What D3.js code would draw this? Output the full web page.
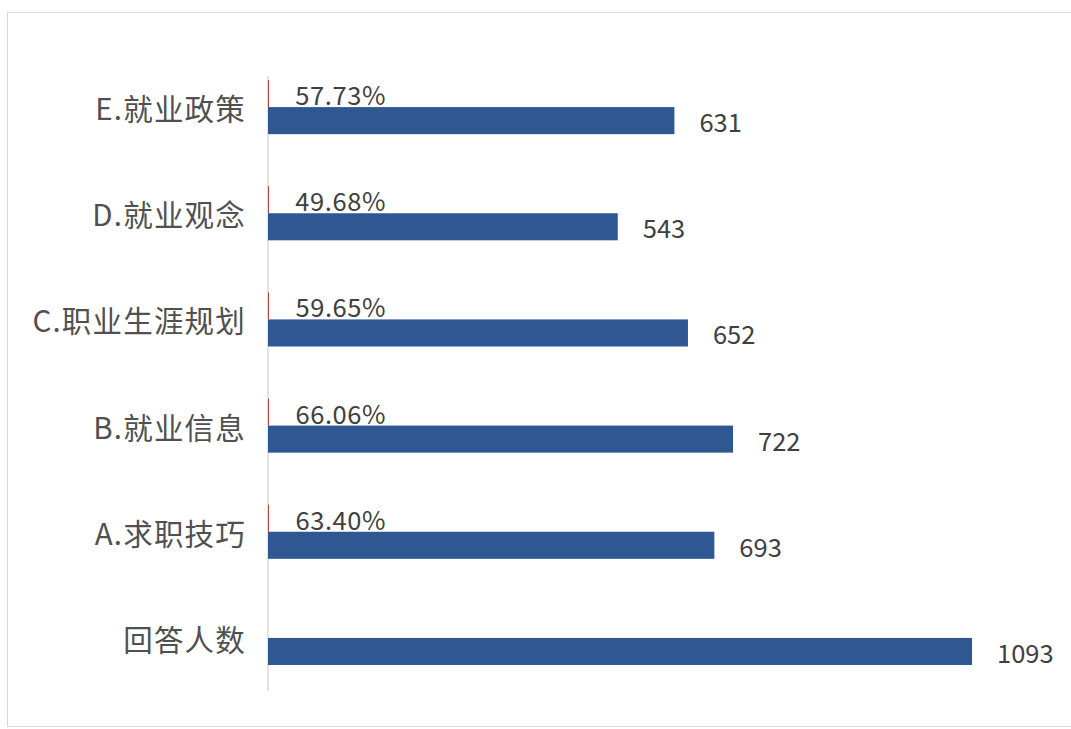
<!DOCTYPE html>
<html><head><meta charset="utf-8">
<script src="https://cdn.jsdelivr.net/npm/d3@7"></script>
<style>html,body{margin:0;padding:0;background:#fff;}svg{display:block;}</style>
</head><body>
<script>
const categories = ["E.就业政策","D.就业观念","C.职业生涯规划","B.就业信息","A.求职技巧","回答人数"];
const counts = [631, 543, 652, 722, 693, 1093];
const percents = [0.5773, 0.4968, 0.5965, 0.6606, 0.6340, null];
const percentLabels = ["57.73%","49.68%","59.65%","66.06%","63.40%",""];

const W = 1071, H = 729;
const svg = d3.select("body").append("svg").attr("width", W).attr("height", H);

// frame
svg.append("rect").attr("x", 7.5).attr("y", 12.5).attr("width", W + 10).attr("height", 714)
  .attr("fill", "none").attr("stroke", "#d9d9d9").attr("stroke-width", 1);

const x = d3.scaleLinear().domain([0, 1093]).range([268, 972]);
const y = d3.scaleBand().domain(categories).range([54, 691]).paddingInner(0.49).paddingOuter(0.245);
const sub = d3.scaleBand().domain(["pct","cnt"]).range([0, y.bandwidth()]);

const font = "'Noto Sans CJK SC', 'Noto Sans', sans-serif";

// axis line
svg.append("line").attr("x1", x(0)).attr("x2", x(0)).attr("y1", 76).attr("y2", 691)
  .attr("stroke", "#d0d0d0").attr("stroke-width", 1.2);

// category labels
svg.selectAll("text.cat").data(categories).join("text").attr("class","cat")
  .attr("x", 246).attr("y", d => y(d) + y.bandwidth()/2)
  .attr("text-anchor","end").attr("dominant-baseline","central")
  .attr("font-family", font).attr("font-size", 29.5).attr("letter-spacing", 1.2).attr("fill", "#505050")
  .text(d => d);

// percent bars (tiny)
const pctData = categories.map((c,i)=>({c, v: percents[i], l: percentLabels[i]})).filter(d=>d.v!=null);
svg.selectAll("rect.pct").data(pctData).join("rect").attr("class","pct")
  .attr("x", x(0)).attr("y", d => y(d.c) + sub("pct"))
  .attr("width", d => Math.max(1, x(d.v) - x(0))).attr("height", sub.bandwidth())
  .attr("fill", "#b0403c");
svg.selectAll("text.pct").data(pctData).join("text").attr("class","pct")
  .attr("x", d => x(d.v) + 27).attr("y", d => y(d.c) + sub("pct") + sub.bandwidth()/2)
  .attr("dominant-baseline","central")
  .attr("font-family", font).attr("font-size", 25.5).attr("letter-spacing", 0.6).attr("fill", "#404040")
  .text(d => d.l);

// count bars
const cntData = categories.map((c,i)=>({c, v: counts[i]}));
svg.selectAll("rect.cnt").data(cntData).join("rect").attr("class","cnt")
  .attr("x", x(0)).attr("y", d => y(d.c) + sub("cnt"))
  .attr("width", d => x(d.v) - x(0)).attr("height", sub.bandwidth())
  .attr("fill", "#2f5892");
svg.selectAll("text.cnt").data(cntData).join("text").attr("class","cnt")
  .attr("x", d => x(d.v) + 25).attr("y", d => y(d.c) + sub("cnt") + sub.bandwidth()/2)
  .attr("dominant-baseline","central")
  .attr("font-family", font).attr("font-size", 25.5).attr("fill", "#404040")
  .text(d => d.v);
</script>
</body></html>
